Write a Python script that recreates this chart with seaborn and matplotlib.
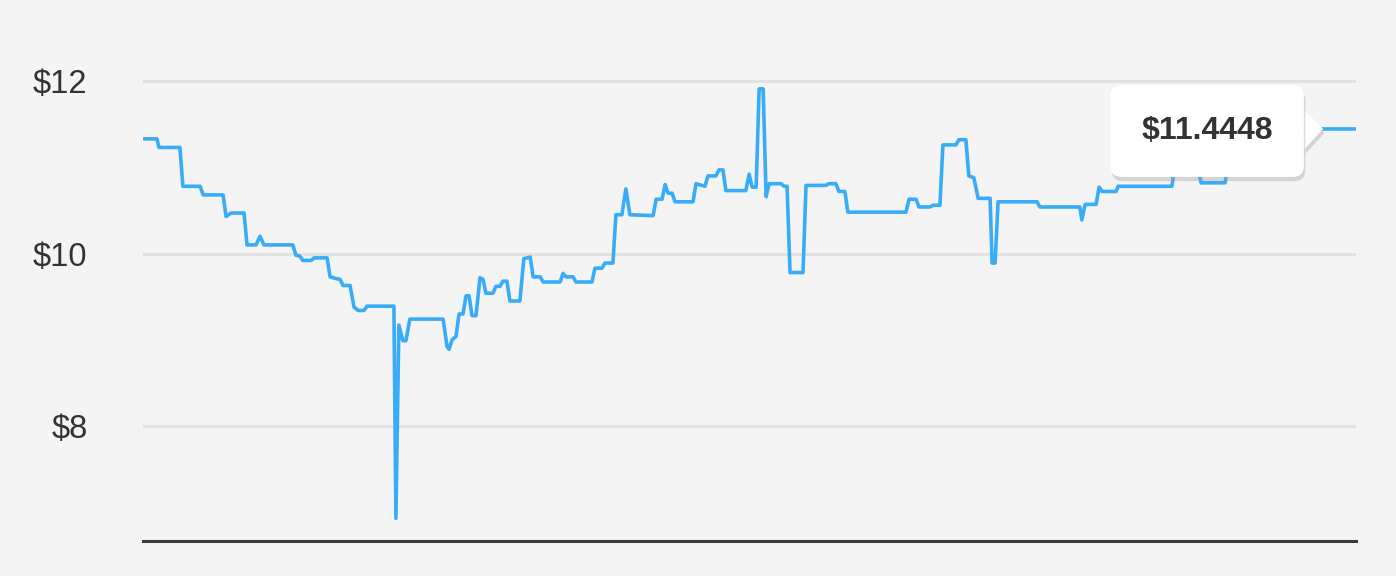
import numpy as np
import pandas as pd
import seaborn as sns
import matplotlib.pyplot as plt
import matplotlib.patheffects as pe
from matplotlib.ticker import FuncFormatter

# day of the year and price
days = [0, 4.2, 4.8, 11.1, 12.0, 17.2, 18.1, 24.1, 25.0, 26.5, 30.4, 31.3, 34.0, 35.2, 36.4,
        45.1, 46.0, 47.2, 48.1, 50.6, 51.5, 55.4, 56.3, 58.1, 59.3, 60.2, 62.3, 63.5, 64.7,
        66.5, 67.4, 75.5, 76.1, 77.0, 78.2, 79.1, 80.3, 90.3, 91.5, 92.1, 93.0, 94.2, 95.1,
        96.3, 97.2, 98.1, 99.0, 100.2, 101.4, 102.3, 103.2, 105.3, 106.2, 107.4, 108.3,
        109.5, 110.4, 113.4, 114.6, 116.5, 117.4, 119.5, 120.4, 125.5, 126.4, 127.3, 129.4,
        130.3, 135.1, 136.0, 138.1, 139.0, 141.4, 142.3, 144.1, 145.3, 146.5, 153.5, 154.4,
        156.2, 157.1, 158.0, 159.2, 160.1, 165.5, 166.4, 169.1, 170.0, 172.4, 173.3, 174.5,
        175.4, 181.4, 182.4, 183.3, 184.5, 185.4, 186.6, 187.5, 188.4, 192.0, 192.9, 193.8,
        194.7, 198.6, 199.5, 205.5, 206.4, 208.5, 209.4, 211.2, 212.1, 229.6, 230.5, 232.6,
        233.5, 236.8, 237.7, 239.8, 240.7, 244.6, 245.5, 247.6, 248.5, 250.0, 251.3, 254.9,
        255.5, 256.4, 257.3, 269.0, 269.9, 281.9, 282.5, 283.5, 286.8, 287.7, 288.6, 292.8,
        293.4, 309.6, 310.5, 317.2, 318.4, 325.6, 326.5, 347.0, 348.2, 365.0]
prices = [11.33, 11.33, 11.23, 11.23, 10.78, 10.78, 10.68, 10.68, 10.43, 10.47, 10.47, 10.10,
          10.10, 10.20, 10.10, 10.10, 9.98, 9.97, 9.92, 9.92, 9.95, 9.95, 9.73, 9.71, 9.70,
          9.63, 9.63, 9.38, 9.34, 9.34, 9.39, 9.39, 6.93, 9.17, 8.99, 8.99, 9.24, 9.24, 8.92,
          8.89, 9.00, 9.04, 9.30, 9.30, 9.51, 9.51, 9.28, 9.28, 9.72, 9.70, 9.54, 9.54, 9.62,
          9.62, 9.68, 9.68, 9.45, 9.45, 9.94, 9.96, 9.73, 9.73, 9.67, 9.67, 9.77, 9.73, 9.73,
          9.67, 9.67, 9.83, 9.83, 9.89, 9.89, 10.45, 10.45, 10.75, 10.45, 10.44, 10.63, 10.63,
          10.80, 10.70, 10.70, 10.60, 10.60, 10.81, 10.78, 10.90, 10.90, 10.97, 10.97, 10.73,
          10.73, 10.92, 10.77, 10.77, 11.91, 11.91, 10.66, 10.81, 10.81, 10.78, 10.78, 9.78,
          9.78, 10.79, 10.79, 10.81, 10.81, 10.72, 10.72, 10.48, 10.48, 10.63, 10.63, 10.54,
          10.54, 10.56, 10.56, 11.26, 11.26, 11.32, 11.32, 10.90, 10.88, 10.64, 10.64, 9.89,
          9.89, 10.60, 10.60, 10.54, 10.54, 10.39, 10.57, 10.57, 10.77, 10.72, 10.72, 10.78,
          10.78, 11.02, 11.02, 10.82, 10.82, 11.02, 11.02, 11.4448, 11.4448]
yticks = [8, 10, 12]
last_label = "$11.4448"
tip_day = 355.1

df = pd.DataFrame({"day": days, "price": prices})

bg = "#f4f4f4"
fig = plt.figure(figsize=(13.96, 5.76), dpi=100, facecolor=bg)
ax = fig.add_axes([143 / 1396, 35 / 576, 1213 / 1396, 541 / 576])
ax.set_facecolor(bg)

sns.lineplot(data=df, x="day", y="price", ax=ax, color="#38acf7", linewidth=2.6,
             estimator=None, sort=False, zorder=3)

ax.set_xlim(0, 365)
ax.set_ylim(6.667, 12.94)
ax.set_yticks(yticks)
ax.yaxis.set_major_formatter(FuncFormatter(lambda v, p: "$%d" % v))
ax.set_xticks([])
ax.set_xlabel("")
ax.set_ylabel("")
ax.tick_params(axis="y", length=0, pad=40, labelsize=23.5, labelcolor="#333333")
for lab in ax.get_yticklabels():
    lab.set_family("Liberation Sans")
ax.yaxis.grid(True, color="#e2e2e2", linewidth=2.2, zorder=0)
ax.set_axisbelow(True)
for s in ["top", "right", "left"]:
    ax.spines[s].set_visible(False)
ax.spines["bottom"].set_color("#3a3a3a")
ax.spines["bottom"].set_linewidth(2.2)

# tooltip on the last point
ann = ax.annotate(last_label, xy=(tip_day, prices[-1]), xytext=(-116, -2),
                  textcoords="offset pixels", ha="center", va="center",
                  fontsize=23, fontweight="bold", color="#333333", family="Liberation Sans",
                  bbox=dict(boxstyle="round,pad=0.97,rounding_size=0.35", fc="white", ec="none"),
                  arrowprops=dict(arrowstyle="wedge,tail_width=1.45,shrink_factor=0.5",
                                  fc="white", ec="none", mutation_scale=20,
                                  shrinkA=0, shrinkB=0),
                  zorder=10)
shadow = [pe.SimplePatchShadow(offset=(1, -3), shadow_rgbFace="#999999", alpha=0.35),
          pe.Normal()]
ann.get_bbox_patch().set_path_effects(shadow)
ann.arrow_patch.set_path_effects(shadow)

plt.savefig("out.png", dpi=100, facecolor=bg)
